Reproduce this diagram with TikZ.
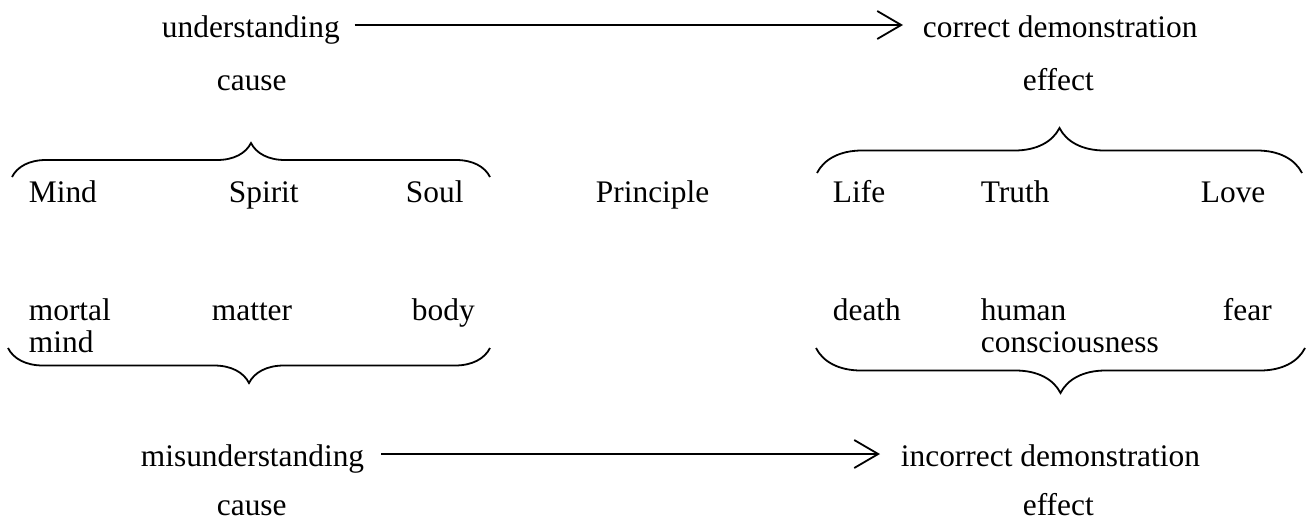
\documentclass[tikz,border=0pt]{standalone}
\usepackage{fontspec}
\setmainfont{Liberation Serif}
\usepackage{tikz}
\usetikzlibrary{positioning}
\usetikzlibrary{arrows.meta}
\usetikzlibrary{decorations.pathreplacing}
\usetikzlibrary{calc}
\newcommand{\wsize}{\fontsize{15.7pt}{16pt}\selectfont}
\tikzstyle{word}=[inner sep=0pt, anchor=base west, font=\wsize]
\tikzstyle{flow}=[-{Straight Barb[length=12pt,width=14pt]}]
\tikzset{brc/.style={decorate,decoration={brace,amplitude=#1}}}

\begin{document}
\begin{tikzpicture}[x=0.5pt, y=-0.5pt, line width=0.9pt]

  \useasboundingbox (0,0) rectangle (1307,525);

  % top and bottom lines
  \foreach \y/\x/\name/\label in {37/161/und/understanding, 37/922/cdem/correct demonstration,
      90/216/causeA/cause, 90/1022/effectA/effect,
      466/140/mis/misunderstanding, 466/900/idem/incorrect demonstration,
      515/216/causeB/cause, 515/1022/effectB/effect}
        \node[word] (\name) at (\x,\y) {\label};

  % the two rows
  \foreach \y/\x/\name/\label in {202/28/mind/Mind, 202/228/spirit/Spirit, 202/405/soul/Soul,
      202/595/principle/Principle, 202/832/life/Life, 202/980/truth/Truth, 202/1200/love/Love,
      320/28/mortal/mortal, 352/28/mmind/mind, 320/211/matter/matter, 320/411/body/body,
      320/832/death/death, 320/980/human/human, 352/980/consc/consciousness, 320/1222/fear/fear}
        \node[word] (\name) at (\x,\y) {\label};

  \draw[flow] ($(und.base east)+(14,-12)$) -- ($(cdem.base west)+(-19,-12)$);
  \draw[flow] ($(mis.base east)+(16,-12)$) -- ($(idem.base west)+(-20,-12)$);

  % braces
  \coordinate (tl1) at (12,177);  \coordinate (tl2) at (490,177);
  \coordinate (tr1) at (817,173); \coordinate (tr2) at (1302,173);
  \coordinate (bl1) at (8,348);   \coordinate (bl2) at (490,348);
  \coordinate (br1) at (816,348); \coordinate (br2) at (1305,348);

  \draw[brc=17] (tl1) -- (tl2);
  \draw[brc=22.5] (tr1) -- (tr2);
  \draw[brc=17.5] (bl2) -- (bl1);
  \draw[brc=22.5] (br2) -- (br1);

\end{tikzpicture}
\end{document}
